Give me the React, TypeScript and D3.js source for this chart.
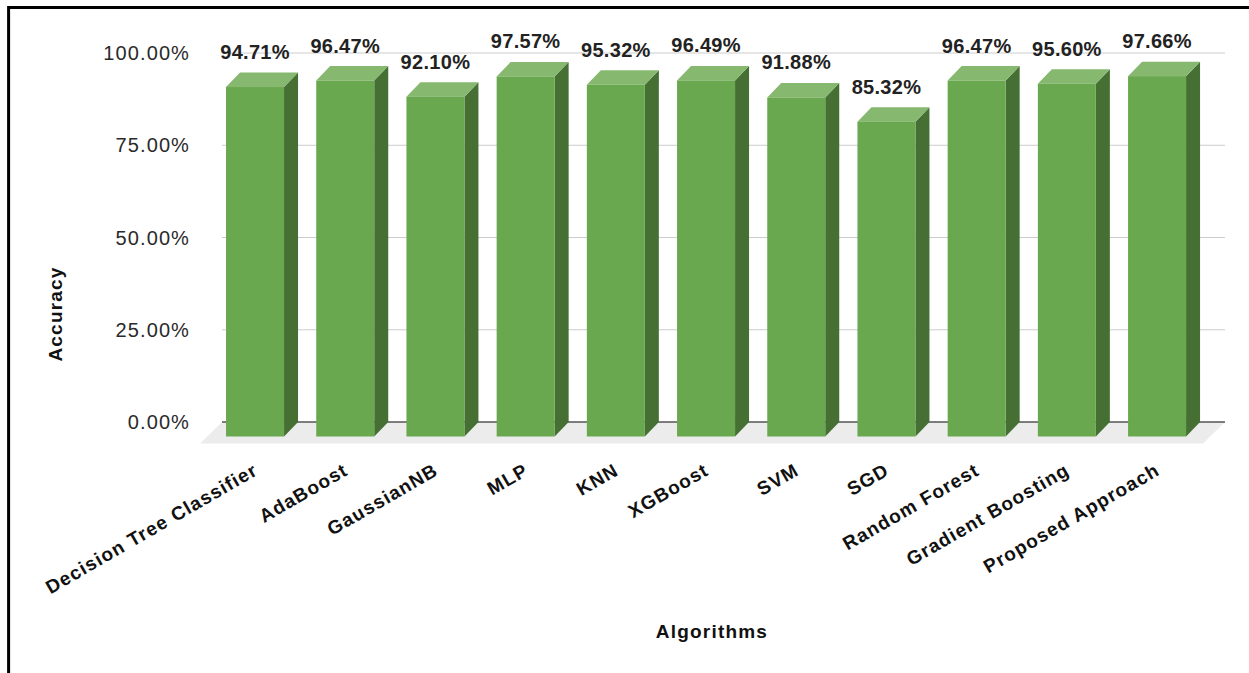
import React from "react";
import * as d3 from "d3";

const algorithms = [
  "Decision Tree Classifier",
  "AdaBoost",
  "GaussianNB",
  "MLP",
  "KNN",
  "XGBoost",
  "SVM",
  "SGD",
  "Random Forest",
  "Gradient Boosting",
  "Proposed Approach",
];
const accuracy = [94.71, 96.47, 92.1, 97.57, 95.32, 96.49, 91.88, 85.32, 96.47, 95.6, 97.66];
const yTicks = [0, 25, 50, 75, 100];

const W = 1249;
const H = 673;

// back wall of the plot
const wallLeft = 222;
const wallRight = 1225;
const wallBottom = 422;
const wallTop = 53;

// 3D offsets
const barDx = 14;
const barDy = 14.5;
const floorDx = 22;
const floorDy = 21.5;

const FRONT = "#6aa84f";
const SIDE = "#456f33";
const TOP = "#86b870";
const FONT = "'Liberation Sans', Arial, sans-serif";

export default function App() {
  const y = d3.scaleLinear().domain([0, 100]).range([wallBottom, wallTop]);
  // front plane of the bars
  const x = d3
    .scaleBand<string>()
    .domain(algorithms)
    .range([209.8, 1202.3])
    .paddingInner(0.357)
    .paddingOuter(0.18);
  const bw = x.bandwidth();
  const fmt = (v: number) => d3.format(".2f")(v) + "%";

  const floor = d3.path();
  floor.moveTo(wallLeft, wallBottom);
  floor.lineTo(wallRight, wallBottom);
  floor.lineTo(wallRight - floorDx, wallBottom + floorDy);
  floor.lineTo(wallLeft - floorDx, wallBottom + floorDy);
  floor.closePath();

  return (
    <svg
      width={W}
      height={H}
      style={{ position: "absolute", left: 0, top: 0, background: "#fff" }}
      fontFamily={FONT}
    >
      <rect x={0} y={0} width={W} height={H} fill="#fff" />
      {/* frame */}
      <path d={`M8.6,${H} V7.5 H${W}`} fill="none" stroke="#000" strokeWidth={3} />

      {/* floor */}
      <path d={floor.toString()} fill="#ececec" />

      {/* gridlines */}
      {yTicks.map((t) => (
        <line
          key={t}
          x1={wallLeft}
          x2={wallRight}
          y1={y(t)}
          y2={y(t)}
          stroke={t === 0 ? "#555" : "#cccccc"}
          strokeWidth={t === 0 ? 1.6 : 1}
        />
      ))}

      {/* y tick labels */}
      {yTicks.map((t) => (
        <text
          key={"l" + t}
          x={190}
          y={y(t)}
          dy="0.36em"
          textAnchor="end"
          fontSize={20}
          letterSpacing={1.1}
          fill="#2a2a2a"
        >
          {fmt(t)}
        </text>
      ))}

      {/* bars */}
      {algorithms.map((a, i) => {
        const v = accuracy[i];
        const x0 = x(a)!;
        const x1 = x0 + bw;
        const yb = y(0) + barDy;
        const yt = y(v) + barDy;
        const side = `M${x1},${yt} L${x1 + barDx},${yt - barDy} L${x1 + barDx},${yb - barDy} L${x1},${yb} Z`;
        const top = `M${x0},${yt} L${x0 + barDx},${yt - barDy} L${x1 + barDx},${yt - barDy} L${x1},${yt} Z`;
        return (
          <g key={a}>
            <path d={side} fill={SIDE} />
            <path d={top} fill={TOP} />
            <rect x={x0} y={yt} width={bw} height={yb - yt} fill={FRONT} />
            <text
              x={x0 + bw / 2}
              y={y(v) - 13.5}
              textAnchor="middle"
              fontSize={20}
              fontWeight="bold"
              letterSpacing={0.3}
              fill="#222"
            >
              {fmt(v)}
            </text>
          </g>
        );
      })}

      {/* category labels */}
      {algorithms.map((a) => {
        const cx = x(a)! + bw / 2 + 4;
        return (
          <text
            key={"c" + a}
            transform={`translate(${cx},474) rotate(-30)`}
            textAnchor="end"
            fontSize={19}
            fontWeight="bold"
            letterSpacing={1.1}
            fill="#111"
          >
            {a}
          </text>
        );
      })}

      {/* axis titles */}
      <text
        transform={`translate(62,314) rotate(-90)`}
        textAnchor="middle"
        fontSize={19}
        fontWeight="bold"
        letterSpacing={1.2}
        fill="#111"
      >
        Accuracy
      </text>
      <text
        x={712}
        y={638}
        textAnchor="middle"
        fontSize={19}
        fontWeight="bold"
        letterSpacing={1.2}
        fill="#111"
      >
        Algorithms
      </text>
    </svg>
  );
}
